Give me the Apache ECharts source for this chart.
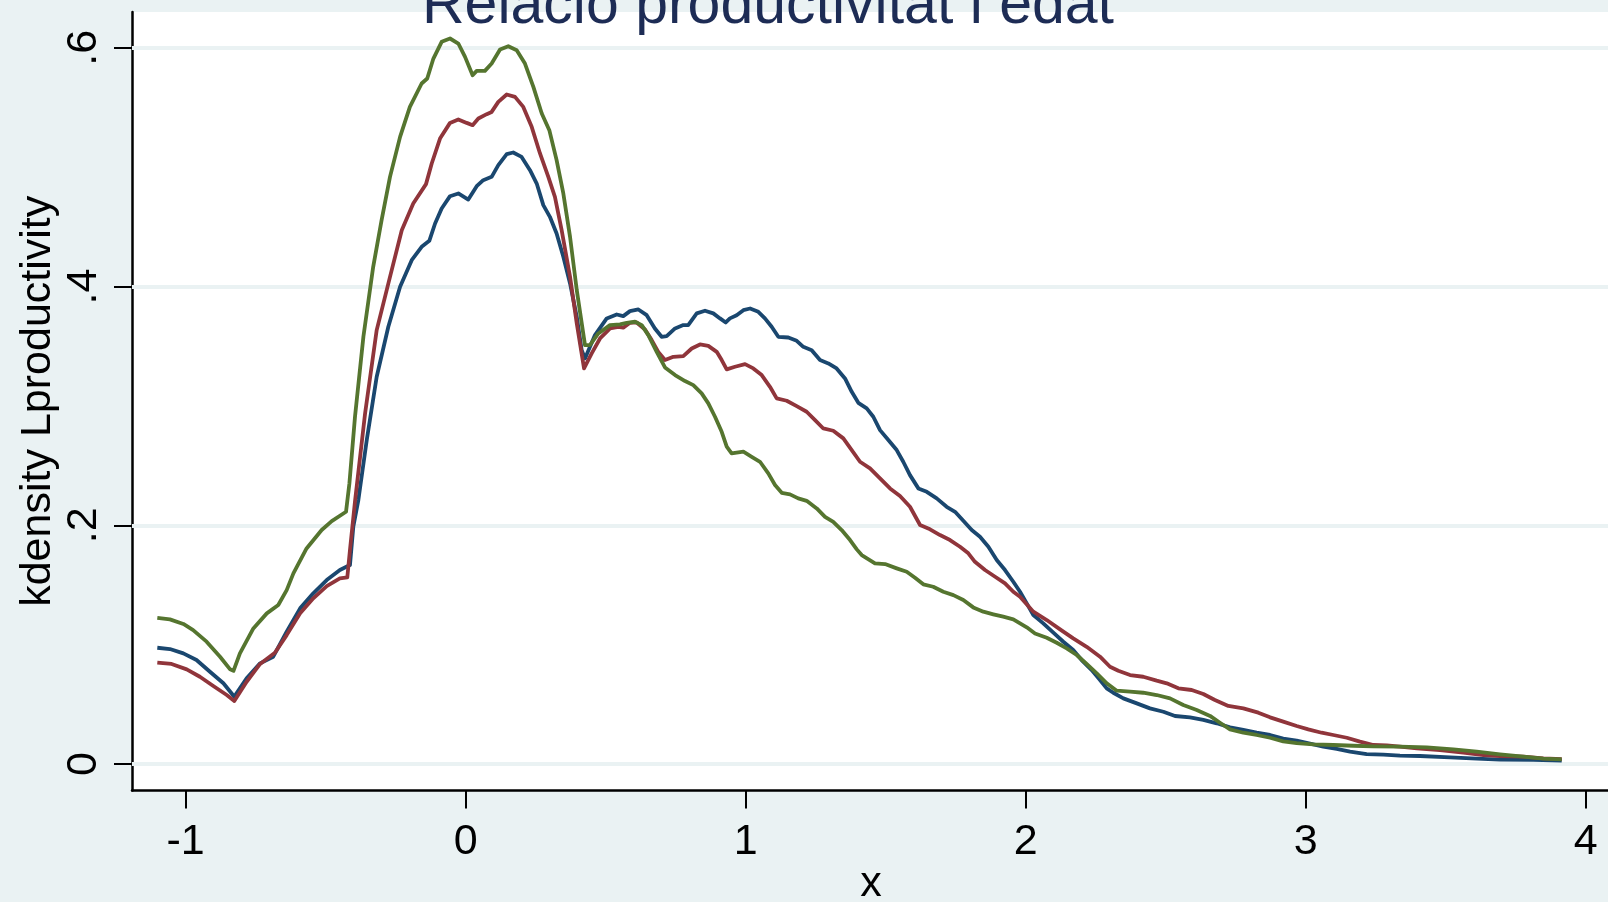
<!DOCTYPE html>
<html>
<head>
<meta charset="utf-8">
<script src="https://cdn.jsdelivr.net/npm/echarts@6/dist/echarts.min.js"></script>
<style>
html,body{margin:0;padding:0;background:#EAF2F3;}
#chart{width:1608px;height:902px;}
</style>
</head>
<body>
<div id="chart"></div>
<script>
const titleText = 'Relació productivitat i edat';
const xAxisName = 'x';
const yAxisName = 'kdensity Lproductivity';
const xTicks = [-1, 0, 1, 2, 3, 4];
const yTicks = [0, 0.2, 0.4, 0.6];
const yTickLabels = ['0', '.2', '.4', '.6'];

const seriesBlue = [[-1.101,0.0974],[-1.056,0.0963],[-1.008,0.0927],[-0.961,0.0871],[-0.913,0.0773],[-0.865,0.0676],[-0.826,0.0564],[-0.782,0.0718],[-0.734,0.0843],[-0.687,0.0899],[-0.639,0.1108],[-0.591,0.1304],[-0.544,0.143],[-0.496,0.1541],[-0.449,0.1625],[-0.413,0.1667],[-0.401,0.1988],[-0.383,0.2211],[-0.353,0.2714],[-0.3175,0.3244],[-0.276,0.3663],[-0.234,0.3998],[-0.1925,0.4221],[-0.157,0.4333],[-0.1296,0.4383],[-0.109,0.4528],[-0.0855,0.4654],[-0.0557,0.4757],[-0.026,0.478],[0.0096,0.4729],[0.0396,0.4841],[0.063,0.4891],[0.093,0.4919],[0.1168,0.5017],[0.1468,0.5109],[0.17,0.5123],[0.2,0.5086],[0.23,0.4975],[0.254,0.4863],[0.2775,0.4682],[0.301,0.4584],[0.325,0.4445],[0.349,0.4249],[0.373,0.4026],[0.397,0.3746],[0.4146,0.3467],[0.4264,0.3398],[0.462,0.3593],[0.504,0.3733],[0.5396,0.3766],[0.563,0.3752],[0.587,0.3794],[0.617,0.3808],[0.6468,0.376],[0.676,0.3649],[0.7,0.3579],[0.718,0.3584],[0.748,0.3649],[0.7775,0.3677],[0.795,0.3677],[0.8254,0.3775],[0.855,0.3797],[0.8846,0.3775],[0.9086,0.3733],[0.929,0.3699],[0.944,0.3733],[0.968,0.376],[0.992,0.3802],[1.016,0.3816],[1.0454,0.3788],[1.069,0.3733],[1.093,0.3663],[1.1168,0.3579],[1.1525,0.3573],[1.1825,0.3545],[1.206,0.3495],[1.236,0.3467],[1.2657,0.3384],[1.2954,0.3356],[1.325,0.3314],[1.355,0.323],[1.379,0.3118],[1.4025,0.3026],[1.4325,0.2979],[1.456,0.2909],[1.48,0.2797],[1.5097,0.2714],[1.5396,0.263],[1.563,0.2532],[1.587,0.242],[1.617,0.2309],[1.647,0.228],[1.6825,0.2225],[1.718,0.2155],[1.748,0.2113],[1.7775,0.2038],[1.8075,0.196],[1.837,0.1904],[1.867,0.182],[1.8968,0.1709],[1.9264,0.1625],[1.956,0.1527],[1.98,0.1443],[2.004,0.1346],[2.0275,0.1248],[2.063,0.1178],[2.099,0.11],[2.1346,0.1024],[2.17,0.0955],[2.2,0.0871],[2.236,0.0787],[2.2657,0.0704],[2.2896,0.0634],[2.313,0.0597],[2.349,0.055],[2.397,0.0508],[2.444,0.0466],[2.492,0.0438],[2.5336,0.0402],[2.587,0.0391],[2.6346,0.0369],[2.6825,0.0341],[2.73,0.0307],[2.7775,0.0285],[2.825,0.0262],[2.873,0.0243],[2.92,0.0212],[2.968,0.0195],[3.0157,0.017],[3.063,0.0145],[3.111,0.0126],[3.1586,0.0103],[3.218,0.0082],[3.2775,0.0078],[3.337,0.0071],[3.4086,0.0067],[3.5157,0.0056],[3.611,0.0045],[3.694,0.0036],[3.813,0.0034],[3.9146,0.0028]];

const seriesRed = [[-1.101,0.0849],[-1.05,0.0838],[-0.996,0.0793],[-0.949,0.0731],[-0.901,0.0653],[-0.853,0.0578],[-0.826,0.0528],[-0.782,0.0689],[-0.734,0.0838],[-0.681,0.0932],[-0.639,0.108],[-0.591,0.1262],[-0.544,0.1388],[-0.496,0.1491],[-0.449,0.1555],[-0.4225,0.1564],[-0.413,0.1792],[-0.395,0.22],[-0.359,0.2937],[-0.3175,0.3635],[-0.27,0.4081],[-0.228,0.4472],[-0.187,0.4696],[-0.1414,0.4858],[-0.121,0.5031],[-0.0914,0.524],[-0.0557,0.5371],[-0.026,0.54],[0.004,0.5371],[0.025,0.5352],[0.0455,0.5408],[0.0754,0.5444],[0.093,0.5463],[0.1168,0.5547],[0.1468,0.5609],[0.1764,0.5589],[0.206,0.5505],[0.236,0.5338],[0.2657,0.5115],[0.2954,0.4919],[0.319,0.4751],[0.343,0.4472],[0.373,0.4081],[0.397,0.3691],[0.423,0.3314],[0.4503,0.344],[0.48,0.3565],[0.516,0.3649],[0.5454,0.3663],[0.563,0.3655],[0.587,0.3696],[0.611,0.3699],[0.6407,0.364],[0.6646,0.3551],[0.688,0.3453],[0.712,0.3384],[0.742,0.3411],[0.7775,0.3417],[0.8075,0.3481],[0.837,0.3515],[0.8668,0.3503],[0.8968,0.3453],[0.9146,0.3384],[0.9325,0.3306],[0.962,0.3328],[0.998,0.335],[1.0275,0.3314],[1.0575,0.3258],[1.087,0.316],[1.111,0.3063],[1.1468,0.3043],[1.1825,0.2998],[1.218,0.2951],[1.248,0.2881],[1.2775,0.2811],[1.313,0.2792],[1.349,0.2728],[1.379,0.263],[1.4086,0.2532],[1.4443,0.2476],[1.48,0.2393],[1.5157,0.2309],[1.5514,0.2245],[1.587,0.2155],[1.623,0.2002],[1.6586,0.1966],[1.6943,0.1918],[1.73,0.1876],[1.7657,0.182],[1.7954,0.1765],[1.819,0.1694],[1.855,0.1625],[1.891,0.1569],[1.9264,0.1513],[1.956,0.1443],[1.98,0.1401],[2.0275,0.1276],[2.0754,0.1206],[2.123,0.1128],[2.17,0.1053],[2.218,0.0982],[2.2657,0.0899],[2.3014,0.0815],[2.331,0.0781],[2.373,0.0745],[2.42,0.0731],[2.468,0.0698],[2.504,0.0676],[2.5454,0.0634],[2.593,0.062],[2.6346,0.0586],[2.676,0.0536],[2.724,0.0486],[2.7775,0.0466],[2.831,0.043],[2.873,0.0391],[2.92,0.0355],[2.968,0.0318],[3.0096,0.029],[3.057,0.0262],[3.099,0.0243],[3.147,0.022],[3.194,0.0187],[3.242,0.0159],[3.29,0.0155],[3.337,0.0145],[3.397,0.0131],[3.48,0.0117],[3.563,0.0095],[3.635,0.0075],[3.694,0.0067],[3.7775,0.0061],[3.849,0.0047],[3.9146,0.004]];

const seriesGreen = [[-1.101,0.1225],[-1.056,0.1212],[-1.008,0.1173],[-0.973,0.1122],[-0.925,0.1025],[-0.877,0.0899],[-0.841,0.0793],[-0.829,0.078],[-0.806,0.0927],[-0.758,0.1136],[-0.71,0.1262],[-0.669,0.1332],[-0.639,0.1457],[-0.615,0.1597],[-0.568,0.1806],[-0.514,0.196],[-0.478,0.2035],[-0.427,0.2113],[-0.415,0.235],[-0.395,0.2909],[-0.365,0.3579],[-0.33,0.4165],[-0.3,0.4556],[-0.27,0.4919],[-0.234,0.5254],[-0.199,0.5505],[-0.157,0.5701],[-0.137,0.5743],[-0.115,0.591],[-0.0855,0.605],[-0.0557,0.6078],[-0.026,0.6036],[-0.002,0.5924],[0.025,0.577],[0.0396,0.5807],[0.069,0.5807],[0.093,0.5868],[0.123,0.5986],[0.1525,0.6013],[0.1825,0.598],[0.212,0.5868],[0.242,0.5673],[0.272,0.545],[0.299,0.531],[0.325,0.5059],[0.349,0.478],[0.373,0.4416],[0.397,0.397],[0.4264,0.3509],[0.444,0.351],[0.474,0.3607],[0.5157,0.3677],[0.5514,0.3683],[0.5754,0.3696],[0.605,0.3705],[0.629,0.3677],[0.6525,0.3593],[0.6825,0.3453],[0.712,0.3322],[0.748,0.3258],[0.7836,0.3208],[0.8132,0.3174],[0.843,0.3105],[0.8668,0.3021],[0.8907,0.2909],[0.9146,0.2783],[0.9325,0.2658],[0.95,0.2602],[0.992,0.2616],[1.0218,0.2574],[1.0514,0.2532],[1.081,0.2435],[1.105,0.2337],[1.129,0.2272],[1.1586,0.2259],[1.188,0.2225],[1.218,0.2205],[1.254,0.2141],[1.2836,0.2071],[1.313,0.2029],[1.343,0.196],[1.373,0.1876],[1.397,0.1798],[1.4146,0.175],[1.462,0.1681],[1.498,0.1675],[1.5396,0.1639],[1.5754,0.161],[1.605,0.156],[1.6346,0.1505],[1.67,0.1485],[1.706,0.1443],[1.742,0.1415],[1.7775,0.1374],[1.813,0.1312],[1.849,0.1276],[1.8846,0.1254],[1.92,0.1234],[1.956,0.1212],[2.004,0.1145],[2.0336,0.1094],[2.0754,0.1058],[2.111,0.1016],[2.1468,0.0969],[2.1825,0.0913],[2.218,0.0838],[2.254,0.076],[2.2896,0.0676],[2.3254,0.0614],[2.373,0.0606],[2.42,0.0597],[2.468,0.0578],[2.5157,0.055],[2.563,0.0494],[2.611,0.0452],[2.6586,0.0403],[2.694,0.0346],[2.73,0.029],[2.7775,0.0262],[2.825,0.0243],[2.873,0.022],[2.92,0.019],[2.968,0.0175],[3.0275,0.0165],[3.099,0.0159],[3.17,0.0153],[3.242,0.0148],[3.337,0.0145],[3.4325,0.014],[3.5275,0.0123],[3.611,0.0103],[3.694,0.0081],[3.7775,0.0061],[3.849,0.0045],[3.9146,0.0039]];

const FONT = '"Liberation Sans", Arial, Helvetica, sans-serif';
const chart = echarts.init(document.getElementById('chart'), null, {renderer: 'canvas'});

function lineSeries(name, data, color, z) {
  return {
    name: name, type: 'line', data: data, symbol: 'none', smooth: false,
    showSymbol: false, z: z, animation: false,
    lineStyle: {color: color, width: 3.8, join: 'round'},
    emphasis: {disabled: true}
  };
}

chart.setOption({
  backgroundColor: '#EAF2F3',
  animation: false,
  grid: {left: 132, top: 12, right: -2, bottom: 111.5, show: true, backgroundColor: '#ffffff', borderWidth: 0,
    containLabel: false, outerBoundsMode: 'none'},
  graphic: [{
    type: 'text', x: 768, y: 7, z: 100,
    style: {text: titleText, font: '59px ' + FONT, fill: '#1d2c55', textAlign: 'center', textVerticalAlign: 'middle'}
  }],
  xAxis: {
    type: 'value', min: -1.1914, max: 4.087,
    name: xAxisName, nameLocation: 'middle', nameGap: 72, nameMoveOverlap: false,
    nameTextStyle: {fontSize: 43, fontFamily: FONT, color: '#000'},
    axisLine: {show: true, onZero: false, lineStyle: {color: '#000', width: 2.5}},
    axisTick: {show: true, customValues: xTicks, length: 18, lineStyle: {color: '#000', width: 2}},
    axisLabel: {show: true, customValues: xTicks, fontSize: 43, fontFamily: FONT, color: '#000', margin: 30,
      formatter: v => String(v)},
    splitLine: {show: false}
  },
  yAxis: {
    type: 'value', min: -0.0222, max: 0.63,
    name: yAxisName, nameLocation: 'middle', nameGap: 72, nameMoveOverlap: false,
    nameTextStyle: {fontSize: 43, fontFamily: FONT, color: '#000'},
    axisLine: {show: true, onZero: false, lineStyle: {color: '#000', width: 2.5}},
    axisTick: {show: true, customValues: yTicks, length: 18, lineStyle: {color: '#000', width: 2}},
    axisLabel: {show: true, customValues: yTicks, rotate: 90, fontSize: 43, fontFamily: FONT, color: '#000', margin: 26,
      formatter: v => { const i = yTicks.findIndex(t => Math.abs(t - v) < 1e-9); return i >= 0 ? yTickLabels[i] : ''; }},
    splitLine: {show: false}
  },
  series: [
    {
      type: 'line', data: [], z: 1, silent: true, animation: false,
      markLine: {
        silent: true, symbol: 'none', animation: false, z: 1,
        label: {show: false},
        lineStyle: {color: '#EAF2F3', width: 4, type: 'solid'},
        data: yTicks.map(t => ({yAxis: t}))
      }
    },
    lineSeries('Grup 1', seriesBlue, '#1A476F', 3),
    lineSeries('Grup 2', seriesRed, '#90353B', 4),
    lineSeries('Grup 3', seriesGreen, '#55752F', 5)
  ]
});
</script>
</body>
</html>
